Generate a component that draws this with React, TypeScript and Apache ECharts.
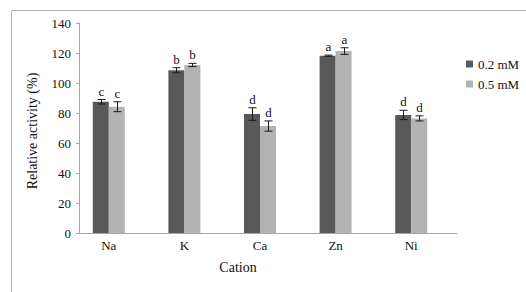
import React, { useEffect, useRef } from "react";
import * as echarts from "echarts";

const categories = ["Na", "K", "Ca", "Zn", "Ni"];
const values02 = [87.5, 108.5, 79.3, 118.2, 78.7];
const values05 = [84.2, 112.0, 71.3, 121.3, 76.4];
const errors02 = [1.5, 1.7, 4.2, 0.4, 3.1];
const errors05 = [3.3, 1.1, 3.4, 2.2, 1.7];
const letters02 = ["c", "b", "d", "a", "d"];
const letters05 = ["c", "b", "d", "a", "d"];
const seriesNames = ["0.2 mM", "0.5 mM"];
const yTicks = { min: 0, max: 140, interval: 20 };

const FONT = "Liberation Serif";
const BAR_W = 16;

function errorSeries(vals: number[], errs: number[], letters: string[], offset: number) {
  return {
    type: "custom",
    xAxisIndex: 1,
    yAxisIndex: 1,
    silent: true,
    z: 5,
    data: vals.map((v, i) => [i, v, errs[i]]),
    renderItem: (params: any, api: any) => {
      const idx = api.value(0);
      const v = api.value(1);
      const e = api.value(2);
      const letter = letters[params.dataIndex];
      const top = api.coord([idx, v + e]);
      const bot = api.coord([idx, v - e]);
      const x = Math.round(top[0] + offset) + 0.5;
      const cap = 4;
      const stroke = { stroke: "#1a1a1a", lineWidth: 1 };
      return {
        type: "group",
        children: [
          { type: "line", shape: { x1: x, y1: top[1], x2: x, y2: bot[1] }, style: stroke },
          { type: "line", shape: { x1: x - cap, y1: top[1], x2: x + cap, y2: top[1] }, style: stroke },
          { type: "line", shape: { x1: x - cap, y1: bot[1], x2: x + cap, y2: bot[1] }, style: stroke },
          {
            type: "text",
            style: {
              text: letter,
              x: x,
              y: top[1] - 2,
              align: "center",
              verticalAlign: "bottom",
              fontSize: 13,
              fontFamily: FONT,
              fill: "#111",
            },
          },
        ],
      };
    },
  };
}

export default function App() {
  const ref = useRef<HTMLDivElement>(null);
  useEffect(() => {
    document.body.style.margin = "0";
    const chart = echarts.init(ref.current!, null, { renderer: "svg" });
    chart.setOption({
      animation: false,
      backgroundColor: "#fff",
      textStyle: { fontFamily: FONT },
      grid: [
        { left: 79, top: 23, width: 378, height: 210 },
        { left: 71, top: 23, width: 378, height: 210 },
      ],
      xAxis: [
        {
          type: "category",
          gridIndex: 0,
          data: categories,
          axisLine: { lineStyle: { color: "#a6a6a6", width: 1 } },
          axisTick: { show: false },
          axisLabel: { show: false },
        },
        {
          type: "category",
          gridIndex: 1,
          data: categories,
          axisLine: { show: false },
          axisTick: { show: false },
          axisLabel: { margin: 6, fontSize: 13, color: "#111", fontFamily: FONT },
        },
      ],
      yAxis: [
        {
          type: "value",
          gridIndex: 0,
          min: yTicks.min,
          max: yTicks.max,
          interval: yTicks.interval,
          axisLine: { show: true, lineStyle: { color: "#a6a6a6", width: 1 } },
          axisTick: { show: true, length: 3, lineStyle: { color: "#a6a6a6" } },
          axisLabel: { margin: 8, fontSize: 13, color: "#111", fontFamily: FONT },
          splitLine: { show: false },
        },
        {
          type: "value",
          gridIndex: 1,
          min: yTicks.min,
          max: yTicks.max,
          interval: yTicks.interval,
          show: false,
          splitLine: { show: false },
        },
      ],
      legend: {
        orient: "vertical",
        left: 461,
        top: 52,
        icon: "rect",
        itemWidth: 7,
        itemHeight: 7,
        itemGap: 6,
        data: seriesNames,
        textStyle: { fontSize: 13, color: "#111", fontFamily: FONT, lineHeight: 14 },
      },
      graphic: [
        {
          type: "polyline",
          shape: { points: [[11.5, 292], [11.5, 10.5], [526, 10.5]] },
          style: { stroke: "#b0b0b0", lineWidth: 1, fill: "none" },
          silent: true,
        },
        {
          type: "text",
          x: 238,
          y: 267,
          style: {
            text: "Cation",
            align: "center",
            verticalAlign: "middle",
            fontSize: 14,
            fontFamily: FONT,
            fill: "#111",
          },
        },
        {
          type: "text",
          x: 32,
          y: 131,
          rotation: Math.PI / 2,
          style: {
            text: "Relative activity (%)",
            align: "center",
            verticalAlign: "middle",
            fontSize: 14,
            fontFamily: FONT,
            fill: "#111",
          },
        },
      ],
      series: [
        {
          name: seriesNames[0],
          type: "bar",
          xAxisIndex: 1,
          yAxisIndex: 1,
          data: values02,
          barWidth: BAR_W,
          barGap: "0%",
          itemStyle: { color: "#595959" },
        },
        {
          name: seriesNames[1],
          type: "bar",
          xAxisIndex: 1,
          yAxisIndex: 1,
          data: values05,
          barWidth: BAR_W,
          barGap: "0%",
          itemStyle: { color: "#b3b3b3" },
        },
        errorSeries(values02, errors02, letters02, -BAR_W / 2),
        errorSeries(values05, errors05, letters05, BAR_W / 2),
      ],
    });
    return () => chart.dispose();
  }, []);
  return <div ref={ref} style={{ width: 526, height: 292 }} />;
}
